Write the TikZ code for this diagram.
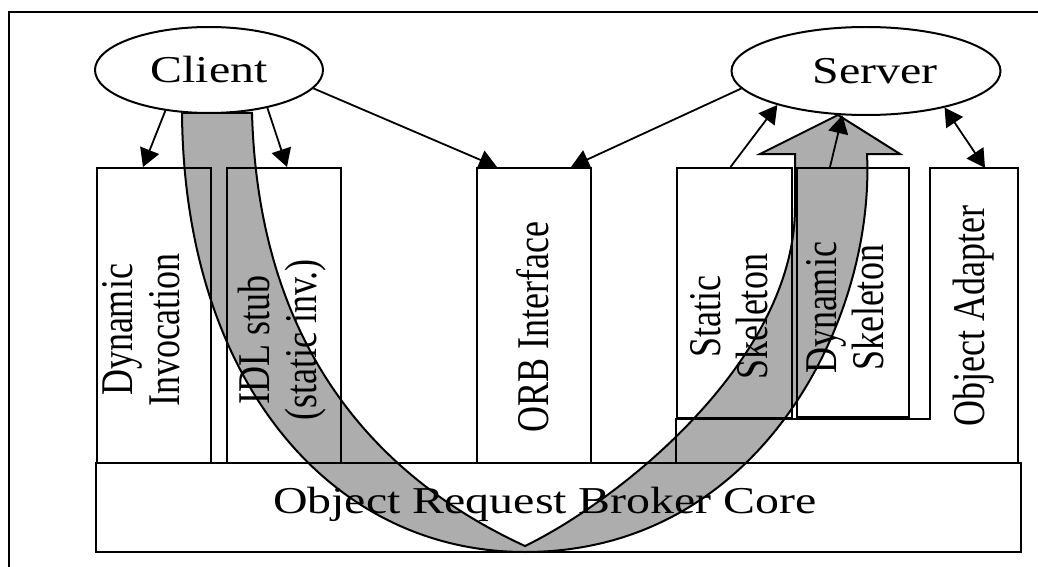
\documentclass[tikz,border=0pt]{standalone}
\usepackage{fontspec}
\setmainfont{Liberation Serif}
\usetikzlibrary{arrows.meta,shapes.geometric,backgrounds}
\definecolor{bandgray}{HTML}{ADADAD}
\newcommand{\labelsize}{\fontsize{36}{37}\selectfont}
\newcommand{\titlesize}{\fontsize{38}{40}\selectfont}

\begin{document}
\begin{tikzpicture}[x=1pt,y=-1pt,
    box/.style={draw,line width=2pt,inner sep=0pt},
    oval/.style={ellipse,draw,line width=2pt,fill=white,inner sep=0pt},
    hlabel/.style={font=\titlesize,xscale=1.26,inner sep=0pt},
    vlabel/.style={font=\labelsize,align=center,xscale=1.26,rotate=90,inner sep=0pt},
    link/.style={line width=1.8pt,-{Triangle[length=18pt,width=20pt]}},
    twoway/.style={line width=1.8pt,{Triangle[length=18pt,width=20pt]}-{Triangle[length=18pt,width=20pt]}}]
    \useasboundingbox (0,0) rectangle (1038,567);
    \draw[line width=2.7pt] (9,567) -- (9,12) -- (1038,12);

    % client and server
    \node[oval,minimum width=228pt,minimum height=86pt] (client) at (209,70) {};
    \node[hlabel] (clienttxt) at (client.center) {Client};
    \node[oval,minimum width=269pt,minimum height=88pt] (server) at (866,71) {};
    \node[hlabel] (servertxt) at ([xshift=9pt]server.center) {Server};

    % boxes
    \node[box,minimum width=114pt,minimum height=295pt] (dinv) at (154,315.5) {};
    \node[box,minimum width=114pt,minimum height=295pt] (idl) at (284,315.5) {};
    \node[box,minimum width=114pt,minimum height=295pt] (orbi) at (534,315.5) {};
    \node[box,minimum width=115pt,minimum height=250pt] (stat) at (734.5,293) {};
    \node[box,minimum width=112pt,minimum height=249pt] (dyn) at (853,292.5) {};
    \node[box,minimum width=925pt,minimum height=89pt] (core) at (558.5,507.5) {};
    \node[inner sep=0pt,minimum width=88pt,minimum height=295pt] (oadp) at (974,315.5) {};
    \draw[line width=2pt] (oadp.north west) -- (oadp.north east) -- (oadp.south east)
        -- (stat.west |- oadp.south) -- (stat.south west) -- (oadp.west |- stat.south) -- cycle;

    \node[vlabel] (dinvtxt) at (141,330) {Dynamic\\Invocation};
    \node[vlabel] (idltxt) at (282,340) {IDL stub\\(static inv.)};
    \node[vlabel] (orbitxt) at (533,327) {ORB Interface};
    \node[vlabel] (stattxt) at (729,317) {Static\\Skeleton};
    \node[vlabel] (dyntxt) at (845,308) {Dynamic\\Skeleton};
    \node[vlabel] (oadptxt) at (974,316) {Object Adapter};
    \node[hlabel] (coretxt) at (545,504) {Object Request Broker Core};

    % calls
    \draw[link] (client.223) -- ([xshift=-11pt]dinv.north);
    \draw[link] (client.327) -- ([xshift=3pt]idl.north);
    \draw[link] (client.350) -- ([xshift=-37pt]orbi.north);
    \draw[link] (server.188) -- ([xshift=37pt]orbi.north);
    \draw[link] ([xshift=-4pt]stat.north) -- (server.201);
    \draw[link] ([xshift=-23pt]dyn.north) -- (server.242);
    \draw[twoway] (server.335) -- ([xshift=11pt]oadp.north);

    % request path
    \begin{scope}[on background layer]
        \filldraw[fill=bandgray,line width=2pt] (182,113) .. controls (184,380) and (330,552) .. (525,552)
            .. controls (760,552) and (875,320) .. (867,154) -- (900,154) -- (838,115) -- (760,154)
            -- (795,154) -- (795,207) .. controls (795,360) and (620,500) .. (525,546)
            .. controls (360,470) and (258,330) .. (252,113) -- cycle;
    \end{scope}
\end{tikzpicture}
\end{document}
